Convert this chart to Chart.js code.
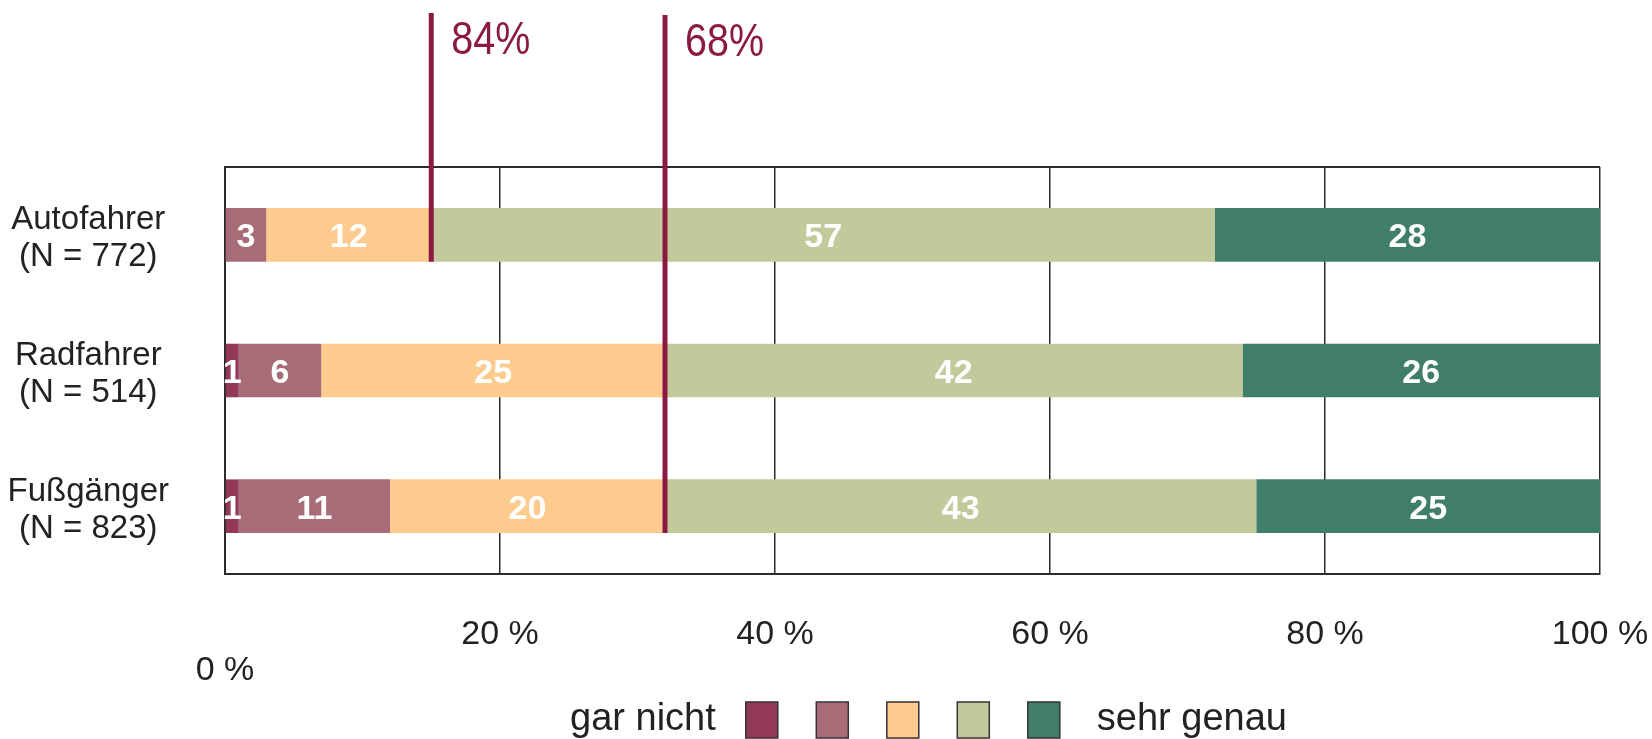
<!DOCTYPE html>
<html lang="de">
<head>
<meta charset="utf-8">
<title>Einhaltung der Verkehrsregeln</title>
<script src="https://cdn.jsdelivr.net/npm/chart.js@4.4.1/dist/chart.umd.min.js"></script>
<style>
  html, body { margin: 0; padding: 0; background: #fff; }
  #wrap { width: 1652px; height: 739px; position: relative; }
</style>
</head>
<body>
<div id="wrap"><canvas id="chart"></canvas></div>
<script>
/* ---- DATA ---- */
const categories = [
  ['Autofahrer', '(N = 772)'],
  ['Radfahrer', '(N = 514)'],
  ['Fußgänger', '(N = 823)']
];
const seriesNames = ['gar nicht', '2', '3', '4', 'sehr genau'];
const garNicht  = [0, 1, 1];
const eherNicht = [3, 6, 11];
const teilweise = [12, 25, 20];
const eherGenau = [57, 42, 43];
const sehrGenau = [28, 26, 25];
const xTicks = [0, 20, 40, 60, 80, 100];

// vertical markers: x value (%), text, row where the line stops
const markerValues = [15, 32];
const markerLabels = ['84%', '68%'];
const markerRows = [0, 2];

const colors = ['#933856', '#a86c78', '#fecb8f', '#c2c99b', '#417d6b'];
const GRID = '#2b2b2b';
const MARKER = '#8b1a42';
const FONT = "'Liberation Sans', Arial, sans-serif";

/* ---- PLUGINS ---- */
const frameTop = {
  id: 'frameTop',
  beforeDatasetsDraw(chart) {
    const { ctx, chartArea: a } = chart;
    ctx.save();
    ctx.strokeStyle = GRID;
    ctx.lineWidth = 2;
    ctx.beginPath();
    ctx.moveTo(a.left, a.top);
    ctx.lineTo(a.right, a.top);
    ctx.stroke();
    ctx.restore();
  }
};

const barLabels = {
  id: 'barLabels',
  afterDatasetsDraw(chart) {
    const ctx = chart.ctx;
    ctx.save();
    ctx.fillStyle = '#fff';
    ctx.font = 'bold 34px ' + FONT;
    ctx.textAlign = 'center';
    ctx.textBaseline = 'middle';
    chart.data.datasets.forEach((ds, i) => {
      chart.getDatasetMeta(i).data.forEach((el, j) => {
        const v = ds.data[j];
        if (!v) return;
        ctx.fillText(String(v), (el.x + el.base) / 2, el.y + 3);
      });
    });
    ctx.restore();
  }
};

const markers = {
  id: 'markers',
  afterDatasetsDraw(chart) {
    const { ctx } = chart;
    const xs = chart.scales.x;
    const meta = chart.getDatasetMeta(2);
    const tops = [13, 15];
    ctx.save();
    markerValues.forEach((v, i) => {
      const x = xs.getPixelForValue(v);
      const bar = meta.data[markerRows[i]];
      const bottom = bar.y + bar.height / 2;
      ctx.strokeStyle = MARKER;
      ctx.lineWidth = 5;
      ctx.beginPath();
      ctx.moveTo(x, tops[i]);
      ctx.lineTo(x, bottom);
      ctx.stroke();
      // condensed label
      ctx.save();
      ctx.translate(x + 20, tops[i] + 41);
      ctx.scale(0.84, 1);
      ctx.fillStyle = MARKER;
      ctx.font = '47px ' + FONT;
      ctx.textAlign = 'left';
      ctx.textBaseline = 'alphabetic';
      ctx.fillText(markerLabels[i], 0, 0);
      ctx.restore();
    });
    ctx.restore();
  }
};

const bottomLegend = {
  id: 'bottomLegend',
  afterDraw(chart) {
    const { ctx, chartArea: a } = chart;
    const cy = 720;
    const boxW = 32, boxH = 36, step = 70.5;
    ctx.save();
    ctx.font = '38px ' + FONT;
    const first = seriesNames[0], last = seriesNames[seriesNames.length - 1];
    const w1 = ctx.measureText(first).width;
    const w2 = ctx.measureText(last).width;
    const total = w1 + 30 + step * 4 + boxW + 37 + w2;
    let x = (a.left + a.right) / 2 + 16 - total / 2;
    ctx.fillStyle = '#222';
    ctx.textBaseline = 'middle';
    ctx.textAlign = 'left';
    ctx.fillText(first, x, cy);
    x += w1 + 30;
    chart.data.datasets.forEach((ds, i) => {
      const bx = x + i * step;
      ctx.fillStyle = ds.backgroundColor;
      ctx.fillRect(bx, cy - boxH / 2, boxW, boxH);
      ctx.strokeStyle = '#333';
      ctx.lineWidth = 1.5;
      ctx.strokeRect(bx, cy - boxH / 2, boxW, boxH);
    });
    x += step * 4 + boxW + 37;
    ctx.fillStyle = '#222';
    ctx.fillText(last, x, cy);
    ctx.restore();
  }
};

/* ---- CHART ---- */
const seriesData = [garNicht, eherNicht, teilweise, eherGenau, sehrGenau];

new Chart(document.getElementById('chart'), {
  type: 'bar',
  data: {
    labels: categories,
    datasets: seriesData.map((d, i) => ({
      label: seriesNames[i],
      data: d,
      backgroundColor: colors[i],
      borderWidth: 0,
      categoryPercentage: 1,
      barPercentage: 0.395
    }))
  },
  options: {
    indexAxis: 'y',
    responsive: true,
    maintainAspectRatio: false,
    animation: false,
    layout: { padding: { top: 167, right: 52, bottom: 35, left: 0 } },
    plugins: {
      legend: { display: false },
      tooltip: { enabled: false }
    },
    scales: {
      x: {
        stacked: true,
        min: 0,
        max: 100,
        afterFit: s => { s.height = 130; s.paddingLeft = 0; s.paddingRight = 0; },
        afterBuildTicks: s => { s.ticks = xTicks.map(v => ({ value: v })); },
        grid: { color: GRID, lineWidth: 1.5, drawTicks: false },
        border: { display: true, color: GRID, width: 2 },
        ticks: {
          padding: 43,
          color: '#222',
          font: { family: FONT, size: 34, lineHeight: 1.05 },
          maxRotation: 0,
          autoSkip: false,
          callback: v => v === 0 ? ['', '0 %'] : v + ' %'
        }
      },
      y: {
        stacked: true,
        afterFit: s => { s.width = 225; },
        grid: { display: false, drawTicks: false },
        border: { display: true, color: GRID, width: 2 },
        ticks: {
          padding: 56,
          labelOffset: 4,
          color: '#222',
          crossAlign: 'center',
          font: { family: FONT, size: 33, lineHeight: 1.12 }
        }
      }
    }
  },
  plugins: [frameTop, barLabels, markers, bottomLegend]
});
</script>
</body>
</html>
